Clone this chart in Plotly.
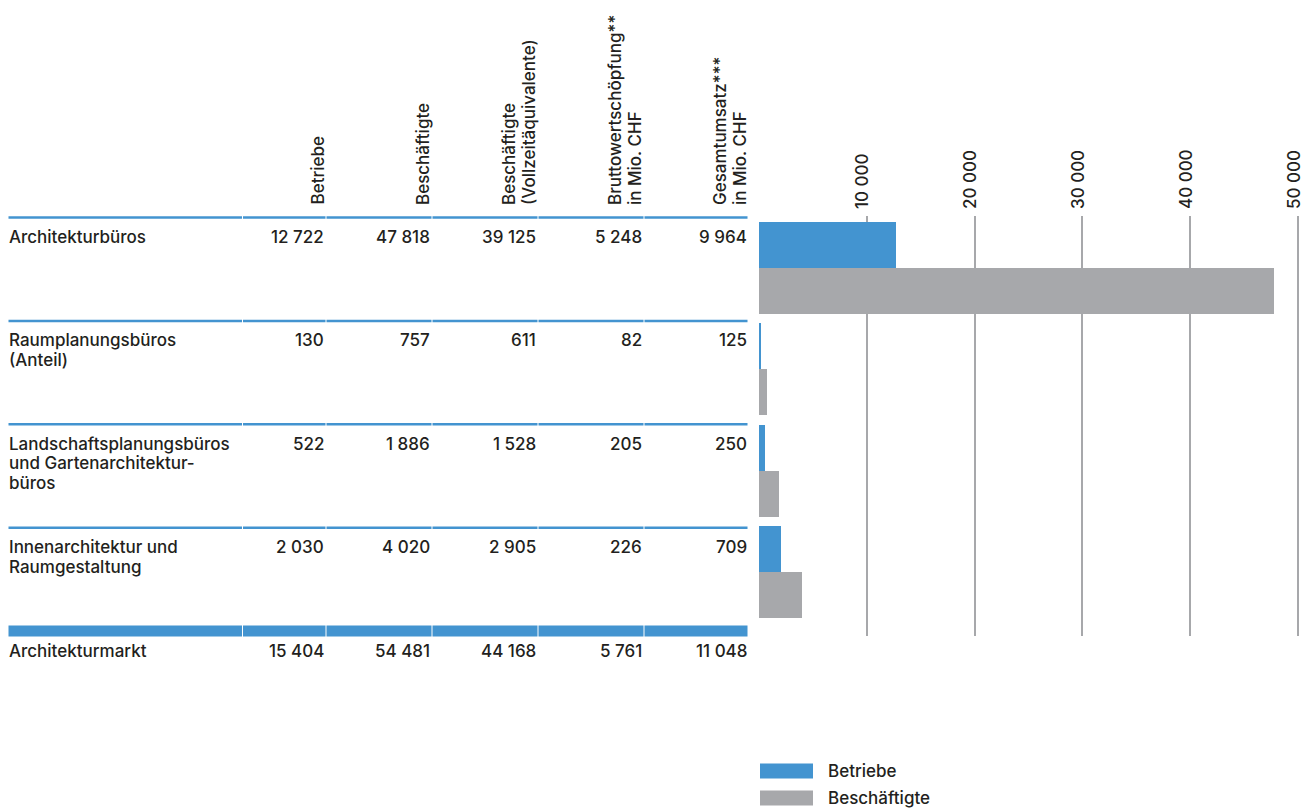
import plotly.graph_objects as go

# ---- data -------------------------------------------------------------
row_labels = [
    "Architekturbüros",
    "Raumplanungsbüros<br>(Anteil)",
    "Landschaftsplanungsbüros<br>und Gartenarchitektur-<br>büros",
    "Innenarchitektur und<br>Raumgestaltung",
]
total_label = "Architekturmarkt"

col_headers = [
    "Betriebe",
    "Beschäftigte",
    "Beschäftigte<br>(Vollzeitäquivalente)",
    "Bruttowertschöpfung**<br>in Mio. CHF",
    "Gesamtumsatz***<br>in Mio. CHF",
]

betriebe = [12722, 130, 522, 2030]
beschaeftigte = [47818, 757, 1886, 4020]
vollzeit = [39125, 611, 1528, 2905]
wertschoepfung = [5248, 82, 205, 226]
umsatz = [9964, 125, 250, 709]

total_values = [15404, 54481, 44168, 5761, 11048]

axis_ticks = [10000, 20000, 30000, 40000, 50000]

# ---- style ------------------------------------------------------------
W, H = 1307, 811
BLUE = "#4394d0"
GREY = "#a7a8ab"
TEXT = "#231f20"
FONT = "Inter"
FSIZE = 17
LINE_GAP = 19.5      # distance between lines of wrapped labels
HEADER_GAP = 20      # distance between lines of rotated headers


def fmt(v):
    s = f"{v:,}"
    return s.replace(",", "\u00a0")


def px(x):
    return x / W


def py(y):
    return 1 - y / H


# table geometry (pixels)
LABEL_X = 8
SEG_EDGES = [8, 242.5, 326, 432, 538, 644, 748]
COL_RIGHT = [325, 431, 537, 643, 748]
SEP_TOP = 217.5
SEP_PITCH = 103.4
TOTAL_BAND = 631
HEADER_BOTTOM = 207
FIRST_LINE = 19.5    # first text line centre below a separator

# bar panel geometry (pixels)
X0_PX, X_SCALE = 759, 539 / 50000
X_MAX = 50500
BAR_TOP, BAR_PITCH = 221.9, 101.5
GRID_TOP, GRID_BOTTOM = 216, 636
BAR_H = 0.453

y_lo = (GRID_TOP - BAR_TOP) / BAR_PITCH
y_hi = (GRID_BOTTOM - BAR_TOP) / BAR_PITCH

fig = go.Figure()

n = len(row_labels)
fig.add_trace(go.Bar(
    x=betriebe, y=[i + BAR_H / 2 for i in range(n)], orientation="h",
    width=BAR_H, marker=dict(color=BLUE, line=dict(width=0)),
    name="Betriebe", showlegend=False, hoverinfo="x",
))
fig.add_trace(go.Bar(
    x=beschaeftigte, y=[i + 1.5 * BAR_H for i in range(n)], orientation="h",
    width=BAR_H, marker=dict(color=GREY, line=dict(width=0)),
    name="Beschäftigte", showlegend=False, hoverinfo="x",
))

shapes = []
annotations = []
font = dict(family=FONT, size=FSIZE, color=TEXT, weight=500)


def text_at(txt, x, y, xanchor, **kw):
    annotations.append(dict(
        text=txt, xref="paper", yref="paper", x=px(x), y=py(y),
        xanchor=xanchor, yanchor=kw.pop("yanchor", "middle"),
        showarrow=False, font=font, **kw,
    ))


# separator lines above each row
for i in range(n):
    y = SEP_TOP + i * SEP_PITCH
    for a, b in zip(SEG_EDGES[:-1], SEG_EDGES[1:]):
        shapes.append(dict(
            type="line", xref="paper", yref="paper",
            x0=px(a + 0.5), x1=px(b - 0.5), y0=py(y), y1=py(y),
            line=dict(color=BLUE, width=2.5),
        ))

# thick band above the total row
for a, b in zip(SEG_EDGES[:-1], SEG_EDGES[1:]):
    shapes.append(dict(
        type="rect", xref="paper", yref="paper",
        x0=px(a + 0.5), x1=px(b - 0.5),
        y0=py(TOTAL_BAND + 5.5), y1=py(TOTAL_BAND - 5.5),
        fillcolor=BLUE, line=dict(width=0),
    ))

# column headers, rotated, one annotation per line
for hdr, xr in zip(col_headers, COL_RIGHT):
    lines = hdr.split("<br>")
    for k, ln in enumerate(lines):
        xc = xr - 8 - (len(lines) - 1 - k) * HEADER_GAP
        text_at(ln, xc, HEADER_BOTTOM, "center", yanchor="bottom",
                textangle=-90)

# body rows
columns = [betriebe, beschaeftigte, vollzeit, wertschoepfung, umsatz]
for i, lab in enumerate(row_labels):
    y0 = SEP_TOP + i * SEP_PITCH + FIRST_LINE
    for k, ln in enumerate(lab.split("<br>")):
        text_at(ln, LABEL_X - 1, y0 + k * LINE_GAP, "left")
    for col, xr in zip(columns, COL_RIGHT):
        text_at(fmt(col[i]), xr + 1, y0, "right")

# total row
y0 = TOTAL_BAND + 20
text_at(total_label, LABEL_X - 1, y0, "left")
for v, xr in zip(total_values, COL_RIGHT):
    text_at(fmt(v), xr + 1, y0, "right")

# legend
legend_items = [("Betriebe", BLUE, 771), ("Beschäftigte", GREY, 798)]
for name, colr, yc in legend_items:
    shapes.append(dict(
        type="rect", xref="paper", yref="paper",
        x0=px(760), x1=px(813), y0=py(yc + 7.5), y1=py(yc - 7.5),
        fillcolor=colr, line=dict(width=0),
    ))
    text_at(name, 826, yc, "left")

fig.update_layout(
    width=W, height=H,
    margin=dict(l=0, r=0, t=0, b=0),
    paper_bgcolor="white", plot_bgcolor="white",
    barmode="overlay", bargap=0,
    shapes=shapes, annotations=annotations,
    font=font,
    xaxis=dict(
        domain=[px(X0_PX), px(X0_PX + X_MAX * X_SCALE)],
        range=[0, X_MAX], side="top",
        tickvals=axis_ticks, ticktext=[fmt(t) for t in axis_ticks],
        tickangle=-90, ticks="", ticklabelstandoff=6, ticklabelshift=-4,
        showgrid=True, gridcolor=GREY, gridwidth=2,
        zeroline=False, showline=False, fixedrange=True,
        tickfont=font,
    ),
    yaxis=dict(
        domain=[py(GRID_BOTTOM), py(GRID_TOP)],
        range=[y_hi, y_lo], showgrid=False, zeroline=False,
        showticklabels=False, showline=False, fixedrange=True,
    ),
)

fig.write_html("out.html")
